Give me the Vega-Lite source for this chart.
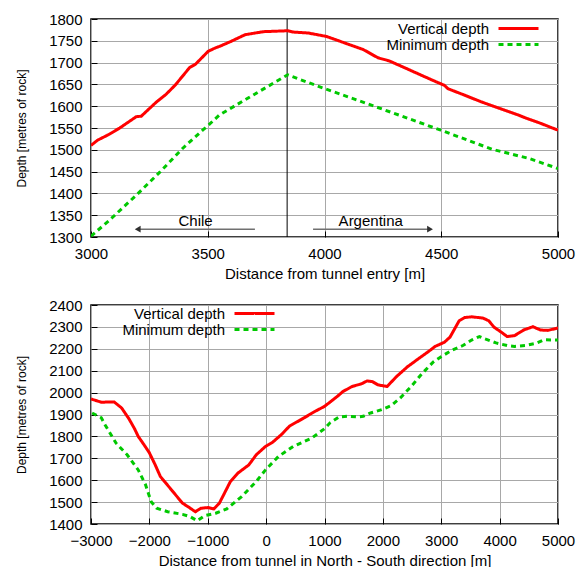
{
  "$schema": "https://vega.github.io/schema/vega-lite/v6.json",
  "padding": {"left": 14, "top": 11, "right": 5, "bottom": 5},
  "background": "white",
  "config": {
    "font": "Liberation Sans",
    "view": {"stroke": "black", "strokeWidth": 1.5},
    "axis": {
      "domain": false, "grid": true, "gridColor": "#a8a8a8", "gridWidth": 1, "gridOpacity": 1,
      "ticks": true, "tickSize": -6, "tickColor": "black", "tickWidth": 1,
      "labelFontSize": 15, "labelColor": "black", "labelFlush": false, "labelOverlap": false,
      "titleFontSize": 15, "titleFontWeight": "normal", "titleColor": "black", "format": "d"
    },
    "axisX": {"labelPadding": 15, "titlePadding": 5},
    "axisY": {"labelPadding": 15, "titlePadding": 20, "titleFontSize": 12},
    "legend": {"orient": "none", "title": null, "symbolType": "M-4,0H4", "symbolSize": 100, "symbolStrokeWidth": 3, "labelAlign": "right", "labelOffset": -37, "labelFontSize": 15, "labelColor": "black", "padding": 0, "rowPadding": 0, "labelLimit": 300}
  },
  "datasets": {
    "topLines": [
      {"x": 3000, "y": 1510, "series": "Vertical depth"},
      {"x": 3028, "y": 1522, "series": "Vertical depth"},
      {"x": 3076, "y": 1535, "series": "Vertical depth"},
      {"x": 3123, "y": 1550, "series": "Vertical depth"},
      {"x": 3194, "y": 1576, "series": "Vertical depth"},
      {"x": 3215, "y": 1577, "series": "Vertical depth"},
      {"x": 3281, "y": 1610, "series": "Vertical depth"},
      {"x": 3321, "y": 1627, "series": "Vertical depth"},
      {"x": 3360, "y": 1648, "series": "Vertical depth"},
      {"x": 3423, "y": 1689, "series": "Vertical depth"},
      {"x": 3447, "y": 1696, "series": "Vertical depth"},
      {"x": 3502, "y": 1726, "series": "Vertical depth"},
      {"x": 3534, "y": 1734, "series": "Vertical depth"},
      {"x": 3550, "y": 1737, "series": "Vertical depth"},
      {"x": 3597, "y": 1748, "series": "Vertical depth"},
      {"x": 3660, "y": 1764, "series": "Vertical depth"},
      {"x": 3739, "y": 1771, "series": "Vertical depth"},
      {"x": 3842, "y": 1773, "series": "Vertical depth"},
      {"x": 3866, "y": 1770, "series": "Vertical depth"},
      {"x": 3929, "y": 1768, "series": "Vertical depth"},
      {"x": 4008, "y": 1760, "series": "Vertical depth"},
      {"x": 4087, "y": 1745, "series": "Vertical depth"},
      {"x": 4166, "y": 1730, "series": "Vertical depth"},
      {"x": 4229, "y": 1711, "series": "Vertical depth"},
      {"x": 4277, "y": 1704, "series": "Vertical depth"},
      {"x": 4340, "y": 1689, "series": "Vertical depth"},
      {"x": 4419, "y": 1670, "series": "Vertical depth"},
      {"x": 4482, "y": 1655, "series": "Vertical depth"},
      {"x": 4513, "y": 1648, "series": "Vertical depth"},
      {"x": 4529, "y": 1640, "series": "Vertical depth"},
      {"x": 4592, "y": 1627, "series": "Vertical depth"},
      {"x": 4671, "y": 1610, "series": "Vertical depth"},
      {"x": 4750, "y": 1595, "series": "Vertical depth"},
      {"x": 4829, "y": 1580, "series": "Vertical depth"},
      {"x": 4861, "y": 1573, "series": "Vertical depth"},
      {"x": 4924, "y": 1561, "series": "Vertical depth"},
      {"x": 5000, "y": 1545, "series": "Vertical depth"},
      {"x": 3000, "y": 1302, "series": "Minimum depth"},
      {"x": 3076, "y": 1337, "series": "Minimum depth"},
      {"x": 3194, "y": 1396, "series": "Minimum depth"},
      {"x": 3297, "y": 1450, "series": "Minimum depth"},
      {"x": 3392, "y": 1503, "series": "Minimum depth"},
      {"x": 3478, "y": 1545, "series": "Minimum depth"},
      {"x": 3500, "y": 1555, "series": "Minimum depth"},
      {"x": 3550, "y": 1580, "series": "Minimum depth"},
      {"x": 3842, "y": 1672, "series": "Minimum depth"},
      {"x": 3992, "y": 1642, "series": "Minimum depth"},
      {"x": 4182, "y": 1606, "series": "Minimum depth"},
      {"x": 4498, "y": 1545, "series": "Minimum depth"},
      {"x": 4719, "y": 1501, "series": "Minimum depth"},
      {"x": 4877, "y": 1480, "series": "Minimum depth"},
      {"x": 5000, "y": 1457, "series": "Minimum depth"}
    ],
    "bottomLines": [
      {"x": -3000, "y": 1971, "series": "Vertical depth"},
      {"x": -2823, "y": 1956, "series": "Vertical depth"},
      {"x": -2697, "y": 1957, "series": "Vertical depth"},
      {"x": -2602, "y": 1957, "series": "Vertical depth"},
      {"x": -2476, "y": 1930, "series": "Vertical depth"},
      {"x": -2349, "y": 1880, "series": "Vertical depth"},
      {"x": -2254, "y": 1835, "series": "Vertical depth"},
      {"x": -2191, "y": 1800, "series": "Vertical depth"},
      {"x": -2100, "y": 1765, "series": "Vertical depth"},
      {"x": -2002, "y": 1726, "series": "Vertical depth"},
      {"x": -1900, "y": 1670, "series": "Vertical depth"},
      {"x": -1812, "y": 1617, "series": "Vertical depth"},
      {"x": -1622, "y": 1556, "series": "Vertical depth"},
      {"x": -1433, "y": 1495, "series": "Vertical depth"},
      {"x": -1338, "y": 1479, "series": "Vertical depth"},
      {"x": -1212, "y": 1456, "series": "Vertical depth"},
      {"x": -1117, "y": 1472, "series": "Vertical depth"},
      {"x": -991, "y": 1475, "series": "Vertical depth"},
      {"x": -896, "y": 1469, "series": "Vertical depth"},
      {"x": -801, "y": 1495, "series": "Vertical depth"},
      {"x": -612, "y": 1594, "series": "Vertical depth"},
      {"x": -485, "y": 1632, "series": "Vertical depth"},
      {"x": -296, "y": 1670, "series": "Vertical depth"},
      {"x": -169, "y": 1716, "series": "Vertical depth"},
      {"x": -11, "y": 1754, "series": "Vertical depth"},
      {"x": 115, "y": 1774, "series": "Vertical depth"},
      {"x": 273, "y": 1811, "series": "Vertical depth"},
      {"x": 400, "y": 1847, "series": "Vertical depth"},
      {"x": 652, "y": 1885, "series": "Vertical depth"},
      {"x": 842, "y": 1915, "series": "Vertical depth"},
      {"x": 1000, "y": 1937, "series": "Vertical depth"},
      {"x": 1221, "y": 1983, "series": "Vertical depth"},
      {"x": 1316, "y": 2005, "series": "Vertical depth"},
      {"x": 1474, "y": 2028, "series": "Vertical depth"},
      {"x": 1632, "y": 2040, "series": "Vertical depth"},
      {"x": 1727, "y": 2053, "series": "Vertical depth"},
      {"x": 1822, "y": 2050, "series": "Vertical depth"},
      {"x": 1917, "y": 2035, "series": "Vertical depth"},
      {"x": 2074, "y": 2028, "series": "Vertical depth"},
      {"x": 2232, "y": 2073, "series": "Vertical depth"},
      {"x": 2422, "y": 2118, "series": "Vertical depth"},
      {"x": 2611, "y": 2155, "series": "Vertical depth"},
      {"x": 2769, "y": 2185, "series": "Vertical depth"},
      {"x": 2896, "y": 2211, "series": "Vertical depth"},
      {"x": 3054, "y": 2230, "series": "Vertical depth"},
      {"x": 3149, "y": 2253, "series": "Vertical depth"},
      {"x": 3307, "y": 2328, "series": "Vertical depth"},
      {"x": 3402, "y": 2343, "series": "Vertical depth"},
      {"x": 3528, "y": 2346, "series": "Vertical depth"},
      {"x": 3718, "y": 2340, "series": "Vertical depth"},
      {"x": 3813, "y": 2328, "series": "Vertical depth"},
      {"x": 3907, "y": 2298, "series": "Vertical depth"},
      {"x": 4034, "y": 2275, "series": "Vertical depth"},
      {"x": 4128, "y": 2256, "series": "Vertical depth"},
      {"x": 4255, "y": 2260, "series": "Vertical depth"},
      {"x": 4413, "y": 2286, "series": "Vertical depth"},
      {"x": 4571, "y": 2301, "series": "Vertical depth"},
      {"x": 4697, "y": 2286, "series": "Vertical depth"},
      {"x": 4824, "y": 2284, "series": "Vertical depth"},
      {"x": 5000, "y": 2295, "series": "Vertical depth"},
      {"x": -2981, "y": 1907, "series": "Minimum depth"},
      {"x": -2823, "y": 1885, "series": "Minimum depth"},
      {"x": -2760, "y": 1853, "series": "Minimum depth"},
      {"x": -2570, "y": 1769, "series": "Minimum depth"},
      {"x": -2381, "y": 1716, "series": "Minimum depth"},
      {"x": -2191, "y": 1647, "series": "Minimum depth"},
      {"x": -2065, "y": 1579, "series": "Minimum depth"},
      {"x": -1970, "y": 1502, "series": "Minimum depth"},
      {"x": -1875, "y": 1472, "series": "Minimum depth"},
      {"x": -1686, "y": 1456, "series": "Minimum depth"},
      {"x": -1433, "y": 1444, "series": "Minimum depth"},
      {"x": -1307, "y": 1434, "series": "Minimum depth"},
      {"x": -1180, "y": 1415, "series": "Minimum depth"},
      {"x": -1054, "y": 1438, "series": "Minimum depth"},
      {"x": -864, "y": 1449, "series": "Minimum depth"},
      {"x": -674, "y": 1469, "series": "Minimum depth"},
      {"x": -420, "y": 1525, "series": "Minimum depth"},
      {"x": -169, "y": 1594, "series": "Minimum depth"},
      {"x": -11, "y": 1647, "series": "Minimum depth"},
      {"x": 210, "y": 1708, "series": "Minimum depth"},
      {"x": 463, "y": 1754, "series": "Minimum depth"},
      {"x": 779, "y": 1792, "series": "Minimum depth"},
      {"x": 1000, "y": 1835, "series": "Minimum depth"},
      {"x": 1095, "y": 1862, "series": "Minimum depth"},
      {"x": 1253, "y": 1889, "series": "Minimum depth"},
      {"x": 1411, "y": 1892, "series": "Minimum depth"},
      {"x": 1569, "y": 1889, "series": "Minimum depth"},
      {"x": 1664, "y": 1892, "series": "Minimum depth"},
      {"x": 1790, "y": 1907, "series": "Minimum depth"},
      {"x": 1980, "y": 1922, "series": "Minimum depth"},
      {"x": 2138, "y": 1940, "series": "Minimum depth"},
      {"x": 2296, "y": 1975, "series": "Minimum depth"},
      {"x": 2485, "y": 2028, "series": "Minimum depth"},
      {"x": 2675, "y": 2088, "series": "Minimum depth"},
      {"x": 2864, "y": 2140, "series": "Minimum depth"},
      {"x": 2991, "y": 2163, "series": "Minimum depth"},
      {"x": 3181, "y": 2193, "series": "Minimum depth"},
      {"x": 3371, "y": 2215, "series": "Minimum depth"},
      {"x": 3528, "y": 2241, "series": "Minimum depth"},
      {"x": 3655, "y": 2256, "series": "Minimum depth"},
      {"x": 3750, "y": 2245, "series": "Minimum depth"},
      {"x": 3939, "y": 2227, "series": "Minimum depth"},
      {"x": 4128, "y": 2215, "series": "Minimum depth"},
      {"x": 4255, "y": 2211, "series": "Minimum depth"},
      {"x": 4444, "y": 2215, "series": "Minimum depth"},
      {"x": 4634, "y": 2226, "series": "Minimum depth"},
      {"x": 4760, "y": 2241, "series": "Minimum depth"},
      {"x": 5000, "y": 2240, "series": "Minimum depth"}
    ],
    "divider": [{"x": 3840}],
    "arrows": [
      {"x": 3197, "x2": 3702, "y": 1318},
      {"x": 3951, "x2": 4455, "y": 1318}
    ],
    "heads": [
      {"x": 3200, "y": 1318, "dir": "left"},
      {"x": 4452, "y": 1318, "dir": "right"}
    ],
    "countries": [
      {"x": 3448, "y": 1336, "text": "Chile"},
      {"x": 4198, "y": 1336, "text": "Argentina"}
    ]
  },
  "spacing": 15,
  "resolve": {
    "scale": {"x": "independent", "y": "independent", "color": "independent", "strokeDash": "independent", "shape": "independent"},
    "legend": {"color": "independent", "strokeDash": "independent"}
  },
  "vconcat": [
    {
      "width": 467,
      "height": 218,
      "encoding": {
        "x": {"field": "x", "type": "quantitative", "scale": {"domain": [3000, 5000], "nice": false, "zero": false},
              "axis": {"values": [3000, 3500, 4000, 4500, 5000], "title": "Distance from tunnel entry [m]"}},
        "y": {"field": "y", "type": "quantitative", "scale": {"domain": [1300, 1800], "nice": false, "zero": false},
              "axis": {"values": [1300, 1350, 1400, 1450, 1500, 1550, 1600, 1650, 1700, 1750, 1800], "title": "Depth [metres of rock]"}}
      },
      "layer": [
        {
          "data": {"name": "divider"},
          "mark": {"type": "rule", "color": "black", "strokeWidth": 1},
          "encoding": {"y": null}
        },
        {
          "data": {"name": "arrows"},
          "mark": {"type": "rule", "color": "#707070", "strokeWidth": 1.5},
          "encoding": {"x2": {"field": "x2"}}
        },
        {
          "data": {"name": "heads"},
          "mark": {"type": "point", "filled": true, "color": "#303030", "opacity": 1, "size": 45},
          "encoding": {"shape": {"field": "dir", "type": "nominal", "scale": {"domain": ["left", "right"], "range": ["triangle-left", "triangle-right"]}, "legend": null}}
        },
        {
          "data": {"name": "countries"},
          "mark": {"type": "text", "fontSize": 15, "color": "black", "baseline": "middle"},
          "encoding": {"text": {"field": "text"}}
        },
        {
          "data": {"name": "topLines"},
          "mark": {"type": "line", "strokeWidth": 3, "clip": true},
          "encoding": {
            "color": {"field": "series", "type": "nominal",
              "scale": {"domain": ["Vertical depth", "Minimum depth"], "range": ["#ff0000", "#00c800"]},
              "legend": {"legendX": 420, "legendY": 2}},
            "strokeDash": {"field": "series", "type": "nominal",
              "scale": {"domain": ["Vertical depth", "Minimum depth"], "range": [[1, 0], [5, 4]]},
              "legend": {"legendX": 420, "legendY": 2}}
          }
        }
      ]
    },
    {
      "width": 467,
      "height": 219,
      "data": {"name": "bottomLines"},
      "mark": {"type": "line", "strokeWidth": 3, "clip": true},
      "encoding": {
        "x": {"field": "x", "type": "quantitative", "scale": {"domain": [-3000, 5000], "nice": false, "zero": false},
              "axis": {"values": [-3000, -2000, -1000, 0, 1000, 2000, 3000, 4000, 5000], "title": "Distance from tunnel in North - South direction [m]"}},
        "y": {"field": "y", "type": "quantitative", "scale": {"domain": [1400, 2400], "nice": false, "zero": false},
              "axis": {"values": [1400, 1500, 1600, 1700, 1800, 1900, 2000, 2100, 2200, 2300, 2400], "title": "Depth [metres of rock]"}},
        "color": {"field": "series", "type": "nominal",
          "scale": {"domain": ["Vertical depth", "Minimum depth"], "range": ["#ff0000", "#00c800"]},
          "legend": {"legendX": 156, "legendY": 1}},
        "strokeDash": {"field": "series", "type": "nominal",
          "scale": {"domain": ["Vertical depth", "Minimum depth"], "range": [[1, 0], [5, 4]]},
          "legend": {"legendX": 156, "legendY": 1}}
      }
    }
  ]
}
